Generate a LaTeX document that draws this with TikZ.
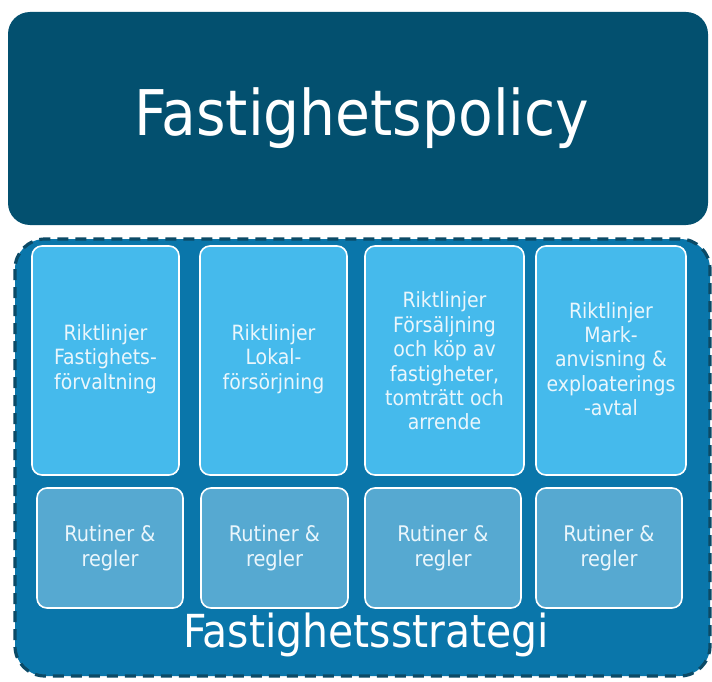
\documentclass[tikz,border=0pt]{standalone}
\usepackage{fontspec}
\setmainfont{DejaVu Sans Condensed}
\definecolor{policy}{HTML}{03506F}
\definecolor{strat}{HTML}{0A76AA}
\definecolor{dashc}{HTML}{0B4A66}
\definecolor{light}{HTML}{45BAEC}
\definecolor{lower}{HTML}{56A9D1}
\definecolor{txt}{HTML}{EAF6FC}
\begin{document}
\begin{tikzpicture}[x=1pt,y=-1pt,
  upbox/.style={draw=white,line width=1.6pt,fill=light,rounded corners=10pt},
  lowbox/.style={draw=white,line width=1.6pt,fill=lower,rounded corners=10pt},
  smalltext/.style={text=txt,font=\fontsize{21}{24.4}\selectfont,align=center},
  lowtext/.style={text=txt,font=\fontsize{21.5}{24.4}\selectfont,align=center}]
\useasboundingbox (0,0) rectangle (712,682);
% top policy box
\fill[policy,rounded corners=22pt] (8,12) rectangle (708,225);
\node[text=white,font=\fontsize{63}{70}\selectfont] (policy) at (362,118) {Fastighetspolicy};
% outer strategy box
\draw[fill=strat,draw=dashc,line width=3.2pt,dash pattern=on 11pt off 7pt,rounded corners=30pt] (15,239) rectangle (710,676);
% upper boxes
\draw[upbox] (32,246) rectangle (179,475);
\draw[upbox] (200,246) rectangle (347,475);
\draw[upbox] (365,246) rectangle (524,475);
\draw[upbox] (536,246) rectangle (686,475);
\node[smalltext] (r1) at (105.5,359) {Riktlinjer\\Fastighets-\\förvaltning};
\node[smalltext] (r2) at (273.5,359) {Riktlinjer\\Lokal-\\försörjning};
\node[smalltext] (r3) at (444.5,361) {Riktlinjer\\Försäljning\\och köp av\\fastigheter,\\tomträtt och\\arrende};
\node[smalltext] (r4) at (611,359) {Riktlinjer\\Mark-\\anvisning \&\\exploaterings\\-avtal};
% lower boxes
\draw[lowbox] (37,488) rectangle (183,608);
\draw[lowbox] (201,488) rectangle (348,608);
\draw[lowbox] (365,488) rectangle (521,608);
\draw[lowbox] (536,488) rectangle (682,608);
\node[lowtext] (l1) at (110,548) {Rutiner \&\\regler};
\node[lowtext] (l2) at (274.5,548) {Rutiner \&\\regler};
\node[lowtext] (l3) at (443,548) {Rutiner \&\\regler};
\node[lowtext] (l4) at (609,548) {Rutiner \&\\regler};
\node[text=white,font=\fontsize{45.5}{52}\selectfont] (strat) at (366,635) {Fastighetsstrategi};
\end{tikzpicture}
\end{document}
